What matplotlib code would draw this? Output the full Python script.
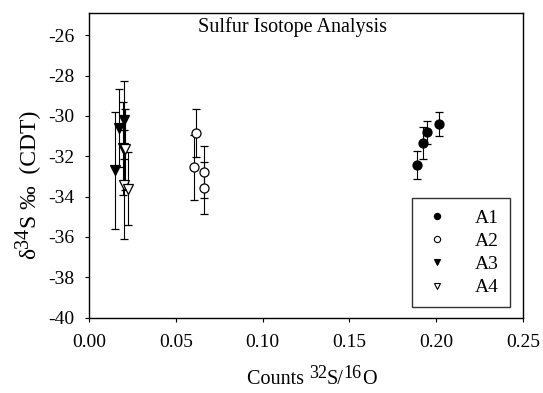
import matplotlib
matplotlib.use("Agg")
import matplotlib.pyplot as plt
from matplotlib.lines import Line2D

plt.rcParams['font.family'] = ['Liberation Serif', 'DejaVu Serif']

# Data
a1_x = [0.1892, 0.1926, 0.1948, 0.2015]
a1_y = [-32.44, -31.34, -30.82, -30.41]
a1_e = [0.7, 0.8, 0.55, 0.6]

a2_x = [0.0614, 0.0604, 0.0661, 0.0660]
a2_y = [-30.86, -32.55, -32.77, -33.56]
a2_e = [1.2, 1.6, 1.3, 1.3]

a3_x = [0.0148, 0.0173, 0.0204, 0.0198]
a3_y = [-32.70, -30.60, -30.20, -31.60]
a3_e = [2.9, 1.95, 1.95, 2.3]

a4_x = [0.0210, 0.0201, 0.0226]
a4_y = [-31.65, -33.40, -33.60]
a4_e = [2.0, 2.7, 1.8]

labels = ['A1', 'A2', 'A3', 'A4']
xticks = [0.00, 0.05, 0.10, 0.15, 0.20, 0.25]
yticks = [-40, -38, -36, -34, -32, -30, -28, -26]

W, H = 543, 393
fig = plt.figure(figsize=(W / 100, H / 100), dpi=100)
ax = fig.add_axes([0.164, 0.1916, 0.799, 0.7754])

series = [
    (a1_x, a1_y, a1_e, 'o', 'black'),
    (a2_x, a2_y, a2_e, 'o', 'white'),
    (a3_x, a3_y, a3_e, 'v', 'black'),
    (a4_x, a4_y, a4_e, 'v', 'white'),
]
handles = []
for (x, y, e, m, fc), lab in zip(series, labels):
    ax.errorbar(x, y, yerr=e, fmt=m, mfc=fc, mec='black', mew=0.9,
                ms=6.5, ecolor='black', elinewidth=0.8, capsize=3,
                capthick=0.9, zorder=3)
    handles.append(Line2D([], [], marker=m, linestyle='none', mfc=fc,
                          mec='black', mew=0.8, ms=4.5, label=lab))

ax.set_xlim(0, 0.25)
ax.set_ylim(-40, -24.9)
ax.set_xticks(xticks)
ax.set_xticklabels([f"{v:.2f}" for v in xticks])
ax.set_yticks(yticks)
ax.set_yticklabels([f"{v}" for v in yticks])
ax.tick_params(axis='both', direction='out', length=3, width=0.8,
               labelsize=14, colors='black')
ax.tick_params(axis='x', pad=8.5)
ax.tick_params(axis='y', pad=7.5)
for s in ax.spines.values():
    s.set_linewidth(1.0)

ax.text(0.47, 0.955, 'Sulfur Isotope Analysis', transform=ax.transAxes,
        ha='center', va='center', fontsize=14.5)

# x label built from pieces (full-size raised digits)
xl_pieces = [('Counts ', 14.5, 0), ('32', 13, 4.5), ('S/', 14.5, 0),
             ('16', 13, 4.5), ('O', 14.5, 0)]
base_y = 1 - 384 / H
last = None
for txt, fs, dy in xl_pieces:
    if last is None:
        last = fig.text(247 / W, base_y, txt, fontsize=fs,
                        ha='left', va='baseline')
    else:
        last = ax.annotate(txt, xy=(1, base_y),
                           xycoords=(last, 'figure fraction'),
                           xytext=(0, dy), textcoords='offset points',
                           fontsize=fs, ha='left', va='baseline',
                           annotation_clip=False)

# y label built from pieces, rotated
yl_pieces = [('δ', 17, 0), ('34', 14.5, -4.5), ('S ‰  (CDT)', 17, 0)]
col_x = 30 / W
lasty = None
for txt, fs, dx in yl_pieces:
    if lasty is None:
        lasty = fig.text(col_x, 1 - 259 / H, txt, fontsize=fs,
                         rotation=90, ha='center', va='bottom')
    else:
        lasty = ax.annotate(txt, xy=(col_x, 1),
                            xycoords=('figure fraction', lasty),
                            xytext=(dx, 0), textcoords='offset points',
                            fontsize=fs, rotation=90, ha='center',
                            va='bottom', annotation_clip=False)

leg = ax.legend(handles=handles, loc='lower right', fontsize=14,
                frameon=True, fancybox=False, edgecolor='black',
                handletextpad=1.2, borderpad=0.55, labelspacing=0.29,
                handlelength=1.5, borderaxespad=0,
                bbox_to_anchor=(0.970, 0.035))
leg.get_frame().set_linewidth(1.0)

fig.savefig('out.png', dpi=100)
